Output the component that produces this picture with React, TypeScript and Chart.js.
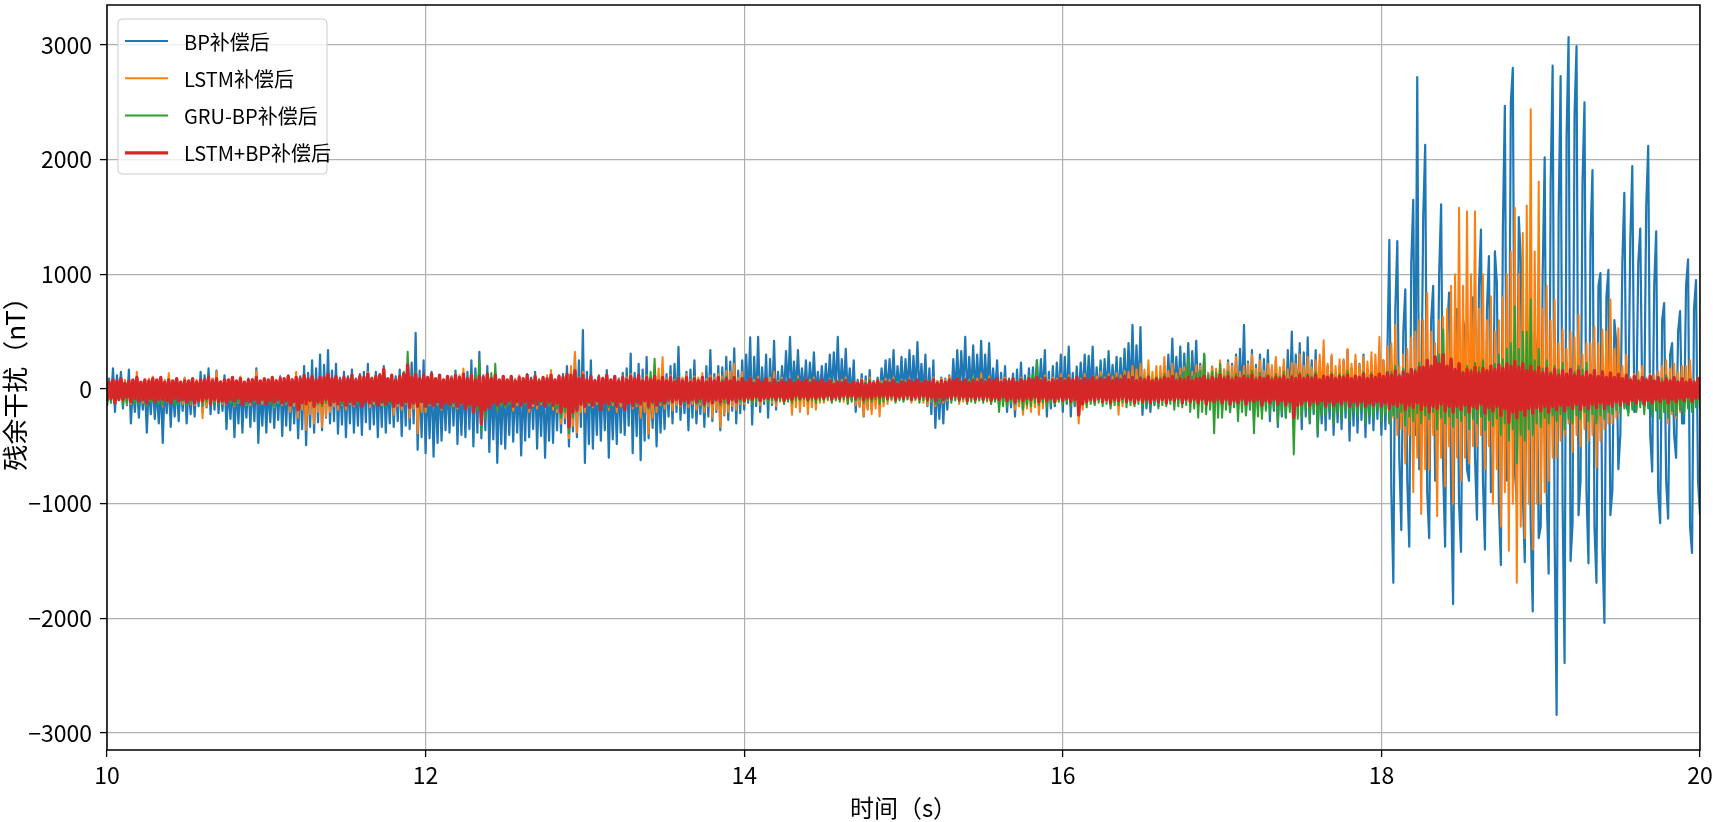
import React, { useEffect, useRef } from "react";
import { Chart, registerables } from "chart.js";

Chart.register(...registerables);

// sample times: 10 s .. 20 s, one value every 0.0125 s (801 samples per series)
const timeStart = 10;
const timeStep = 0.0125;
const xMin = 10;
const xMax = 20;
const yMin = -3148;
const yMax = 3349;
const xTicks = [10, 12, 14, 16, 18, 20];
const yTicks = [-3000, -2000, -1000, 0, 1000, 2000, 3000];
const xTitle = "时间（s）";
const yTitle = "残余干扰（nT）";
const seriesNames = ["BP补偿后", "LSTM补偿后", "GRU-BP补偿后", "LSTM+BP补偿后"];

const bpValues = [
  -150, 90, -120, 180, -200, 120, -90, 150, -170, 60, -140, 170, -300, 30, -200, 60, -250, 20, -180, 50, -380, 40, -220, 70, -260, 10, -300, 40, -470, 50, -210, 80, -330, 30, -240, 60, -280, 60, -190, 90,
  -300, 40, -220, 60, -240, 70, -150, 150, -200, 120, -160, 180, -220, 90, -180, 160, -210, 60, -190, 120, -350, 30, -260, 80, -420, 50, -300, 100, -380, 40, -250, 90, -330, 70, -280, 180, -470, 20, -320, 70,
  -380, 40, -290, 80, -340, 60, -270, 110, -410, 70, -320, 120, -360, 50, -300, 90, -430, 110, -350, 200, -490, 140, -330, 250, -380, 180, -290, 300, -360, 210, -250, 340, -300, 160, -280, 220, -390, 100, -310, 150,
  -420, 110, -300, 170, -380, 90, -320, 130, -400, 150, -290, 220, -350, 100, -310, 150, -420, 130, -330, 200, -380, 80, -300, 120, -330, 110, -280, 170, -410, 140, -320, 210, -350, 230, -300, 490, -530, 160, -420, 250,
  -560, 90, -430, 150, -590, 60, -470, 100, -450, 50, -360, 80, -380, 110, -320, 160, -480, 70, -400, 120, -420, 150, -350, 250, -500, 180, -380, 325, -430, 120, -360, 200, -550, 90, -440, 140, -645, 60, -480, 100,
  -520, 70, -400, 110, -460, 50, -380, 90, -580, 80, -450, 130, -420, 100, -350, 150, -520, 60, -410, 100, -600, 40, -450, 90, -470, 80, -360, 120, -380, 130, -300, 200, -500, 160, -370, 300, -420, 250, -330, 513,
  -645, 150, -480, 250, -520, 80, -400, 120, -450, 100, -360, 165, -600, 60, -440, 100, -480, 90, -380, 140, -400, 180, -320, 310, -560, 140, -410, 220, -620, 170, -450, 280, -430, 100, -340, 150, -500, 80, -380, 130,
  -350, 130, -240, 200, -300, 220, -200, 368, -270, 90, -210, 150, -360, 170, -250, 250, -300, 60, -220, 100, -330, 200, -240, 340, -280, 130, -200, 200, -360, 190, -230, 280, -270, 240, -190, 355, -300, 160, -210, 250,
  -180, 300, -120, 450, -310, 280, -150, 455, -200, 190, -130, 300, -250, 260, -140, 420, -180, 150, -90, 200, -60, 330, -30, 455, -80, 240, -20, 340, -50, 180, -40, 250, -90, 230, -30, 320, -60, 150, -40, 200,
  -70, 220, -30, 300, -40, 320, -20, 455, -90, 260, -40, 350, -60, 180, -90, 250, -200, 80, -150, 130, -240, 110, -170, 165, -180, 70, -110, 100, -60, 180, -30, 250, -40, 260, -20, 340, -80, 200, -30, 280,
  -50, 260, -20, 340, -70, 290, -30, 410, -40, 220, -60, 300, -150, 180, -220, 250, -340, 70, -260, 100, -300, 90, -180, 120, -100, 260, -40, 340, -50, 330, -20, 455, -90, 280, -40, 380, -60, 300, -30, 420,
  -80, 300, -40, 400, -100, 180, -60, 250, -150, 140, -110, 200, -200, 90, -160, 135, -240, 170, -150, 230, -180, 120, -130, 180, -120, 190, -80, 250, -100, 260, -60, 340, -240, 150, -170, 200, -150, 230, -90, 300,
  -200, 280, -130, 370, -240, 140, -150, 195, -100, 230, -60, 300, -80, 290, -40, 370, -120, 190, -70, 250, -90, 260, -50, 330, -60, 210, -30, 280, -100, 270, -60, 350, -80, 400, -50, 560, -110, 380, -70, 540,
  -225, 70, -170, 100, -200, 90, -140, 120, -150, 140, -90, 200, -100, 300, -60, 440, -80, 280, -40, 370, -120, 310, -70, 400, -90, 330, -50, 420, -100, 220, -80, 300, -150, 140, -100, 195, -120, 130, -90, 180,
  -180, 170, -120, 250, -200, 220, -130, 300, -180, 350, -110, 560, -220, 240, -150, 340, -250, 210, -170, 300, -200, 260, -140, 340, -280, 180, -190, 250, -330, 140, -240, 200, -250, 340, -160, 500, -200, 300, -150, 400,
  -350, 320, -240, 450, -300, 250, -220, 340, -415, 140, -300, 200, -360, 200, -260, 280, -400, 130, -290, 195, -350, 250, -250, 340, -450, 180, -320, 250, -380, 220, -270, 300, -420, 150, -300, 200, -360, 180, -260, 250,
  -400, 250, -350, 300, 1300, -900, -1690, 700, 1290, -600, -1230, 500, 870, -800, -1375, 1100, 1650, -400, 2720, -700, -250, 1500, 2130, -900, -1300, 600, 900, -800, -500, 1000, 1610, -700, -1375, 500, 840, -900, -1875, 600, 700, -1000,
  -1420, 600, 500, -700, -800, 700, 800, -600, -1140, 900, 1390, -800, -1400, 700, 1160, -900, -600, 1200, 920, -1000, -1535, 1400, 2470, -800, -600, 2500, 2800, -700, -1000, 1500, 1130, -900, -1510, 600, 400, -1200, -1940, 500, 300, -1300,
  -1200, 1000, 2020, -900, -1610, 1800, 2820, -1300, -2842, 1500, 2730, -1000, -2390, 2200, 3070, -1500, -1170, 2400, 2990, -1100, -800, 1800, 2500, -900, -1520, 1300, 1910, -1200, -1690, 900, 1010, -1400, -2040, 800, 1040, -1100, -880, 600, 400, -700,
  -400, 1100, 1710, -150, -200, 1300, 1945, -200, -180, 1100, 1400, -100, -150, 1600, 2120, -400, -720, 900, 1375, -900, -1170, 600, 750, -800, -1130, 300, 400, -400, -600, 500, 680, -300, -300, 900, 1130, -1200, -1430, 700, 950, -800,
  -1100,
];

const lstmValues = [
  -80, 50, -110, 70, -120, 60, -90, 90, -100, 80, -130, 60, -130, 70, -100, 150, -110, 50, -120, 80, -140, 90, -100, 110, -90, 60, -120, 70, -150, 80, -110, 140, -120, 70, -90, 90, -100, 60, -130, 100,
  -110, 60, -130, 90, -140, 80, -100, 70, -255, 60, -150, 100, -120, 90, -110, 150, -100, 70, -130, 60, -130, 80, -110, 90, -150, 70, -120, 110, -120, 60, -140, 80, -140, 90, -100, 160, -110, 70, -130, 90,
  -130, 60, -110, 70, -160, 80, -120, 100, -140, 60, -130, 80, -200, 90, -150, 150, -250, 70, -180, 90, -357, 80, -220, 110, -300, 60, -200, 80, -330, 90, -240, 120, -200, 70, -150, 100, -180, 60, -140, 90,
  -180, 80, -130, 110, -150, 70, -120, 90, -130, 100, -110, 150, -160, 60, -130, 80, -120, 90, -140, 100, -140, 80, -120, 120, -225, 70, -150, 90, -180, 100, -130, 130, -250, 110, -170, 150, -385, 80, -200, 110,
  -200, 90, -140, 120, -150, 70, -130, 100, -180, 80, -120, 90, -130, 100, -150, 130, -170, 120, -130, 180, -160, 80, -140, 110, -140, 70, -120, 90, -210, 80, -150, 100, -150, 90, -130, 120, -180, 60, -140, 80,
  -160, 80, -130, 100, -190, 90, -140, 120, -140, 70, -120, 90, -200, 80, -150, 110, -170, 90, -130, 100, -150, 120, -140, 165, -180, 80, -200, 110, -300, 90, -250, 130, -430, 200, -320, 325, -380, 100, -200, 150,
  -200, 80, -140, 110, -160, 70, -130, 100, -150, 90, -120, 120, -180, 70, -140, 90, -200, 80, -150, 110, -140, 100, -120, 130, -170, 80, -150, 100, -250, 90, -200, 120, -385, 100, -250, 150, -200, 180, -140, 280,
  -170, 90, -130, 120, -190, 80, -140, 100, -150, 100, -120, 130, -160, 80, -130, 110, -180, 100, -140, 140, -200, 90, -150, 120, -250, 100, -180, 130, -330, 110, -220, 160, -200, 150, -150, 220, -180, 100, -130, 150,
  -130, 70, -100, 100, -120, 80, -110, 110, -140, 60, -100, 90, -110, 100, -120, 150, -150, 70, -110, 100, -130, 60, -100, 80, -225, 70, -160, 110, -200, 60, -150, 90, -220, 80, -160, 100, -180, 60, -120, 80,
  -120, 60, -100, 90, -110, 70, -90, 80, -100, 80, -110, 100, -130, 50, -100, 70, -140, 60, -160, 90, -240, 70, -180, 100, -220, 60, -170, 80, -240, 70, -150, 90, -130, 80, -100, 100, -110, 60, -90, 80,
  -100, 70, -90, 90, -120, 50, -100, 70, -110, 60, -120, 80, -140, 70, -110, 100, -150, 70, -120, 90, -120, 80, -100, 110, -100, 60, -90, 80, -130, 70, -110, 90, -110, 80, -100, 100, -120, 90, -100, 135,
  -100, 80, -110, 110, -130, 70, -100, 90, -120, 80, -110, 100, -150, 60, -120, 80, -180, 70, -150, 100, -225, 80, -170, 110, -200, 70, -160, 90, -225, 90, -170, 120, -150, 80, -120, 100, -130, 90, -110, 130,
  -120, 90, -100, 120, -150, 80, -120, 100, -300, 90, -180, 130, -140, 80, -110, 110, -130, 110, -100, 150, -120, 100, -90, 130, -150, 110, -120, 140, -225, 120, -150, 160, -120, 150, -100, 200, -110, 170, -90, 220,
  -120, 170, -80, 250, -100, 150, -70, 200, -140, 200, -90, 280, -110, 160, -80, 220, -130, 140, -90, 180, -100, 190, -70, 260, -120, 150, -80, 210, -150, 200, -100, 280, -110, 140, -80, 190, -130, 180, -90, 250,
  -100, 170, -70, 230, -130, 200, -90, 280, -120, 150, -80, 200, -140, 220, -100, 300, -110, 180, -80, 250, -150, 160, -100, 220, -120, 210, -90, 280, -100, 190, -70, 260, -130, 170, -90, 230, -110, 220, -80, 300,
  -120, 200, -80, 280, -140, 190, -100, 250, -110, 300, -80, 425, -150, 220, -110, 300, -120, 200, -90, 260, -130, 260, -90, 350, -100, 220, -70, 300, -140, 210, -100, 280, -120, 240, -90, 320, -150, 300, -100, 455,
  -150, 250, -200, 370, -300, 400, -250, 560, -400, 200, -350, 300, -650, 350, -400, 450, -900, 500, -600, 600, -1090, 600, -700, 840, -700, 500, -400, 400, -1110, 600, -600, 630, -850, 700, -500, 900, -1000, 1000, -600, 1580,
  -800, 900, -600, 1550, -650, 1000, -500, 1550, -500, 700, -400, 1000, -700, 600, -500, 810, -1000, 500, -700, 600, -1200, 800, -900, 1000, -1410, 1200, -1000, 1580, -1690, 1000, -1200, 1360, -1300, 1600, -1000, 2440, -1400, 1200, -1000, 1810,
  -1000, 700, -900, 900, -800, 600, -600, 780, -600, 400, -450, 520, -400, 350, -300, 500, -550, 450, -400, 650, -500, 300, -350, 400, -450, 400, -400, 545, -680, 400, -450, 520, -350, 500, -300, 780, -300, 350, -250, 530,
  -200, 200, -150, 300, -150, 100, -120, 130, -180, 150, -130, 200, -150, 100, -120, 130, -200, 120, -180, 150, -250, 200, -200, 250, -300, 180, -220, 220, -250, 150, -200, 200, -150, 200, -130, 250, -120, 80, -100, 100,
  -80,
];

const gruBpValues = [
  -150, 40, -110, 60, -120, 50, -100, 40, -140, 30, -120, 70, -100, 60, -130, 50, -130, 40, -100, 60, -150, 50, -120, 40, -110, 30, -130, 70, -140, 60, -110, 50, -120, 40, -140, 60, -130, 50, -100, 40,
  -140, 50, -120, 60, -120, 40, -100, 80, -150, 60, -110, 50, -110, 40, -130, 70, -130, 50, -110, 60, -100, 40, -120, 50, -140, 60, -110, 70, -120, 50, -130, 60, -110, 40, -120, 50, -130, 60, -100, 80,
  -120, 50, -130, 60, -150, 40, -110, 70, -110, 60, -120, 50, -130, 40, -110, 80, -140, 50, -120, 60, -120, 70, -100, 90, -110, 50, -130, 70, -150, 40, -120, 60, -130, 50, -110, 80, -120, 40, -130, 60,
  -130, 50, -110, 70, -110, 40, -130, 60, -140, 60, -110, 80, -120, 50, -100, 70, -100, 60, -120, 90, -150, 50, -130, 60, -120, 70, -110, 80, -130, 150, -120, 325, -150, 100, -130, 150, -120, 60, -110, 80,
  -120, 60, -130, 90, -140, 50, -120, 70, -130, 80, -110, 100, -150, 60, -130, 80, -110, 70, -120, 90, -140, 80, -160, 120, -200, 130, -180, 250, -370, 80, -250, 100, -150, 140, -130, 220, -180, 70, -140, 90,
  -160, 60, -130, 80, -130, 70, -110, 100, -120, 60, -130, 90, -150, 50, -120, 70, -140, 80, -120, 100, -130, 60, -140, 80, -150, 70, -170, 90, -250, 80, -200, 110, -385, 60, -250, 90, -200, 80, -140, 120,
  -150, 70, -120, 100, -130, 60, -110, 80, -120, 70, -130, 90, -160, 80, -120, 100, -140, 60, -110, 80, -130, 90, -120, 110, -150, 70, -130, 90, -120, 80, -110, 100, -170, 150, -130, 265, -140, 70, -120, 90,
  -130, 60, -110, 80, -120, 70, -100, 100, -140, 60, -120, 90, -110, 50, -100, 70, -130, 80, -110, 100, -150, 60, -120, 80, -120, 70, -100, 90, -140, 80, -120, 110, -130, 60, -100, 80, -120, 70, -110, 90,
  -110, 60, -100, 80, -130, 50, -110, 70, -100, 70, -90, 90, -120, 50, -100, 60, -110, 60, -100, 80, -130, 50, -110, 70, -120, 70, -100, 90, -100, 50, -90, 60, -110, 60, -100, 80, -120, 50, -100, 70,
  -100, 50, -90, 70, -120, 40, -100, 60, -110, 60, -90, 80, -130, 50, -110, 70, -100, 40, -90, 60, -120, 60, -100, 80, -110, 50, -90, 70, -130, 40, -110, 60, -100, 60, -90, 80, -120, 50, -100, 70,
  -110, 60, -90, 80, -100, 50, -90, 70, -120, 40, -100, 60, -110, 70, -100, 90, -130, 50, -110, 70, -100, 60, -90, 80, -120, 40, -100, 60, -110, 50, -90, 70, -130, 70, -110, 90, -120, 60, -100, 80,
  -120, 70, -100, 90, -130, 50, -110, 70, -200, 60, -150, 80, -150, 80, -120, 100, -130, 70, -110, 90, -180, 80, -140, 110, -150, 130, -120, 250, -140, 80, -120, 100, -160, 60, -130, 80, -130, 70, -110, 90,
  -140, 70, -120, 100, -150, 60, -130, 80, -130, 70, -110, 90, -160, 80, -130, 100, -140, 80, -120, 110, -150, 70, -130, 90, -170, 80, -140, 100, -140, 90, -120, 120, -160, 80, -140, 100, -150, 80, -130, 110,
  -160, 90, -140, 120, -150, 80, -130, 100, -170, 100, -140, 130, -150, 80, -130, 110, -180, 90, -150, 120, -160, 150, -140, 280, -200, 110, -170, 140, -250, 160, -200, 310, -220, 120, -180, 150, -385, 140, -250, 220,
  -250, 110, -180, 150, -200, 100, -160, 130, -280, 90, -200, 120, -230, 120, -180, 160, -385, 100, -240, 140, -260, 90, -190, 120, -220, 100, -170, 130, -300, 110, -210, 150, -250, 90, -200, 120, -570, 100, -260, 140,
  -250, 100, -190, 130, -280, 110, -200, 150, -385, 90, -230, 120, -230, 110, -180, 140, -300, 100, -210, 130, -260, 120, -190, 160, -280, 90, -200, 120, -240, 110, -190, 150, -300, 100, -220, 140, -250, 100, -190, 130,
  -280, 110, -220, 150, -300, 150, -230, 200, -250, 130, -200, 180, -320, 110, -240, 150, -280, 170, -210, 230, -300, 150, -230, 200, -260, 180, -200, 250, -350, 300, -250, 520, -300, 170, -240, 220, -330, 140, -250, 180,
  -280, 150, -230, 200, -350, 170, -260, 230, -300, 190, -240, 250, -360, 150, -270, 200, -320, 220, -260, 300, -400, 260, -300, 350, -450, 400, -350, 720, -650, 350, -400, 500, -450, 500, -350, 780, -400, 250, -300, 350,
  -330, 180, -250, 250, -300, 150, -230, 200, -280, 170, -220, 230, -350, 130, -260, 180, -300, 150, -230, 200, -260, 170, -200, 230, -280, 120, -220, 165, -300, 110, -230, 150, -260, 90, -200, 120, -220, 80, -180, 100,
  -210, 90, -170, 120, -230, 80, -180, 100, -200, 70, -160, 90, -220, 80, -170, 110, -240, 70, -190, 100, -260, 90, -200, 120, -250, 80, -190, 100, -230, 70, -180, 90, -220, 60, -170, 80, -200, 70, -160, 90,
  -180,
];

const lstmBpValues = [
  -100, 60, -80, 80, -120, 70, -90, 90, -90, 50, -70, 70, -110, 80, -80, 100, -100, 60, -90, 80, -120, 70, -80, 90, -110, 80, -90, 100, -90, 60, -100, 80, -120, 70, -80, 90, -100, 60, -90, 70,
  -110, 70, -90, 90, -120, 60, -100, 80, -100, 80, -80, 100, -130, 70, -90, 90, -110, 60, -100, 80, -120, 80, -90, 100, -100, 70, -80, 90, -130, 60, -100, 80, -110, 80, -90, 100, -120, 70, -90, 90,
  -130, 80, -100, 100, -110, 70, -90, 90, -120, 90, -100, 110, -140, 80, -110, 100, -180, 90, -120, 120, -130, 90, -100, 110, -150, 80, -110, 100, -120, 100, -90, 130, -140, 90, -110, 110, -130, 80, -100, 100,
  -140, 90, -110, 120, -130, 80, -100, 110, -150, 100, -110, 130, -120, 90, -100, 110, -140, 120, -110, 170, -130, 90, -100, 120, -150, 80, -120, 110, -140, 130, -110, 210, -160, 100, -120, 130, -150, 90, -110, 120,
  -150, 100, -120, 130, -140, 90, -110, 120, -160, 80, -120, 110, -130, 90, -110, 120, -150, 100, -120, 130, -170, 90, -130, 120, -200, 80, -140, 110, -300, 100, -180, 130, -160, 90, -120, 120, -140, 80, -110, 110,
  -130, 80, -100, 110, -150, 70, -110, 100, -140, 90, -110, 120, -160, 80, -120, 110, -130, 70, -100, 100, -150, 90, -110, 120, -140, 80, -120, 110, -200, 100, -150, 130, -330, 120, -200, 160, -180, 90, -130, 120,
  -150, 80, -110, 110, -140, 70, -100, 100, -180, 90, -120, 120, -130, 80, -100, 110, -150, 70, -110, 100, -180, 80, -120, 110, -140, 90, -110, 120, -130, 70, -100, 100, -150, 80, -110, 110, -140, 70, -100, 100,
  -120, 70, -90, 100, -110, 60, -90, 90, -130, 70, -100, 100, -120, 60, -90, 90, -110, 70, -80, 100, -130, 60, -100, 90, -120, 70, -90, 100, -110, 60, -80, 90, -120, 70, -90, 100, -110, 60, -80, 90,
  -100, 60, -80, 90, -90, 50, -70, 80, -100, 60, -80, 90, -80, 50, -70, 80, -90, 50, -70, 70, -100, 60, -80, 80, -90, 50, -60, 70, -80, 60, -70, 80, -90, 50, -70, 70, -80, 60, -70, 80,
  -80, 50, -60, 70, -90, 40, -70, 60, -80, 50, -60, 70, -70, 40, -60, 60, -80, 50, -60, 70, -90, 40, -70, 60, -80, 50, -60, 70, -70, 40, -60, 60, -80, 50, -60, 70, -90, 40, -70, 60,
  -80, 50, -60, 70, -90, 60, -70, 80, -80, 50, -60, 70, -90, 60, -70, 80, -100, 50, -70, 70, -90, 60, -70, 80, -80, 70, -60, 90, -90, 60, -70, 80, -100, 50, -70, 70, -90, 60, -70, 80,
  -90, 60, -70, 80, -100, 70, -80, 90, -90, 60, -70, 80, -100, 70, -80, 90, -110, 60, -80, 80, -100, 70, -80, 90, -90, 80, -70, 100, -110, 70, -80, 90, -100, 60, -80, 80, -110, 70, -80, 90,
  -100, 70, -80, 90, -110, 80, -90, 100, -225, 70, -130, 90, -110, 80, -90, 100, -100, 70, -80, 90, -110, 80, -90, 100, -120, 70, -90, 90, -100, 80, -80, 110, -110, 80, -90, 100, -120, 70, -90, 90,
  -110, 80, -90, 100, -120, 70, -90, 90, -110, 80, -90, 100, -120, 90, -90, 110, -100, 70, -80, 90, -120, 80, -90, 100, -110, 70, -90, 90, -120, 90, -90, 110, -130, 80, -100, 100, -110, 90, -90, 120,
  -120, 90, -90, 110, -130, 80, -100, 100, -120, 90, -90, 110, -130, 90, -100, 120, -110, 80, -90, 100, -140, 90, -100, 110, -120, 80, -90, 100, -130, 90, -100, 110, -140, 80, -110, 100, -250, 90, -140, 120,
  -130, 90, -100, 110, -140, 90, -110, 120, -130, 80, -100, 110, -150, 100, -110, 120, -140, 90, -110, 110, -130, 100, -100, 120, -150, 90, -110, 110, -140, 100, -110, 130, -150, 90, -120, 120, -140, 100, -110, 130,
  -150, 110, -120, 140, -170, 120, -130, 160, -150, 110, -120, 150, -180, 130, -140, 170, -160, 150, -120, 190, -180, 190, -140, 250, -200, 200, -150, 280, -170, 220, -130, 300, -190, 200, -150, 260, -200, 170, -150, 220,
  -180, 140, -140, 170, -200, 150, -150, 190, -170, 140, -130, 180, -210, 160, -160, 200, -190, 170, -150, 210, -230, 180, -170, 220, -290, 200, -200, 240, -250, 190, -180, 220, -230, 160, -170, 200, -210, 150, -160, 190,
  -190, 140, -150, 180, -200, 130, -150, 170, -180, 120, -140, 160, -190, 130, -140, 170, -170, 120, -130, 160, -180, 110, -140, 150, -170, 120, -130, 160, -160, 110, -120, 150, -170, 100, -130, 140, -150, 100, -110, 130,
  -140, 90, -110, 120, -130, 80, -100, 110, -120, 70, -90, 100, -130, 80, -100, 110, -120, 70, -90, 100, -110, 60, -80, 90, -120, 70, -90, 100, -110, 60, -80, 90, -100, 60, -70, 80, -110, 60, -80, 90,
  -90,
];

const seriesValues = [bpValues, lstmValues, gruBpValues, lstmBpValues];
const seriesColors = ["#1f77b4", "#ff7f0e", "#2ca02c", "#d62728"];
const seriesWidths = [2.2, 2.0, 2.0, 3.4];

const FONT = "'Noto Sans CJK SC', sans-serif";

function toPoints(values: number[]) {
  return values.map((v, i) => ({ x: timeStart + i * timeStep, y: v }));
}

const framePlugin = {
  id: "frame",
  afterDatasetsDraw(chart: any) {
    const { ctx, chartArea: a } = chart;
    ctx.save();
    ctx.strokeStyle = "#000";
    ctx.lineWidth = 1.5;
    ctx.strokeRect(a.left, a.top, a.right - a.left, a.bottom - a.top);
    ctx.restore();
  },
};

const legendPlugin = {
  id: "innerLegend",
  afterDraw(chart: any) {
    const { ctx, chartArea: a } = chart;
    const x0 = a.left + 11;
    const y0 = a.top + 14;
    const w = 209;
    const h = 155;
    const r = 4;
    ctx.save();
    ctx.beginPath();
    ctx.moveTo(x0 + r, y0);
    ctx.lineTo(x0 + w - r, y0);
    ctx.quadraticCurveTo(x0 + w, y0, x0 + w, y0 + r);
    ctx.lineTo(x0 + w, y0 + h - r);
    ctx.quadraticCurveTo(x0 + w, y0 + h, x0 + w - r, y0 + h);
    ctx.lineTo(x0 + r, y0 + h);
    ctx.quadraticCurveTo(x0, y0 + h, x0, y0 + h - r);
    ctx.lineTo(x0, y0 + r);
    ctx.quadraticCurveTo(x0, y0, x0 + r, y0);
    ctx.closePath();
    ctx.fillStyle = "rgba(255,255,255,0.8)";
    ctx.fill();
    ctx.strokeStyle = "#cccccc";
    ctx.lineWidth = 1;
    ctx.stroke();
    chart.data.datasets.forEach((ds: any, i: number) => {
      const cy = y0 + 22 + i * 37.3;
      ctx.beginPath();
      ctx.moveTo(x0 + 7, cy);
      ctx.lineTo(x0 + 50, cy);
      ctx.strokeStyle = ds.borderColor;
      ctx.lineWidth = ds.borderWidth;
      ctx.lineCap = "butt";
      ctx.stroke();
      ctx.fillStyle = "#000";
      ctx.font = `20px ${FONT}`;
      ctx.textAlign = "left";
      ctx.textBaseline = "middle";
      ctx.fillText(ds.label, x0 + 66, cy + 1);
    });
    ctx.restore();
  },
};

export default function App() {
  const canvasRef = useRef<HTMLCanvasElement | null>(null);

  useEffect(() => {
    if (!canvasRef.current) return;
    const chart = new Chart(canvasRef.current, {
      type: "line",
      data: {
        datasets: seriesNames.map((name, k) => ({
          label: name,
          data: toPoints(seriesValues[k]),
          borderColor: seriesColors[k],
          backgroundColor: seriesColors[k],
          borderWidth: seriesWidths[k],
          pointRadius: 0,
          tension: 0,
          fill: false,
          borderJoinStyle: "round" as const,
          order: 4 - k,
        })),
      },
      options: {
        animation: false,
        responsive: true,
        maintainAspectRatio: false,
        parsing: false as any,
        layout: { padding: { top: 5, right: 13, left: 0, bottom: 0 } },
        plugins: {
          legend: { display: false },
          tooltip: { enabled: false },
        },
        scales: {
          x: {
            type: "linear",
            min: xMin,
            max: xMax,
            afterBuildTicks: (s: any) => {
              s.ticks = xTicks.map((v) => ({ value: v }));
            },
            afterFit: (s: any) => {
              s.height = 72;
              s.paddingLeft = 0;
              s.paddingRight = 0;
            },
            grid: {
              color: "#b0b0b0",
              lineWidth: 1.2,
              tickLength: 7,
              tickColor: "#000",
              tickWidth: 1.3,
            },
            border: { display: false },
            ticks: {
              font: { family: FONT, size: 23 },
              color: "#000",
              padding: 4,
              maxRotation: 0,
              autoSkip: false,
              callback: (v: any) => String(v),
            },
            title: {
              display: true,
              text: xTitle,
              font: { family: FONT, size: 24, lineHeight: 1.2 },
              color: "#000",
              padding: { top: 0, bottom: 0 },
            },
          },
          y: {
            type: "linear",
            min: yMin,
            max: yMax,
            afterBuildTicks: (s: any) => {
              s.ticks = yTicks.map((v) => ({ value: v }));
            },
            afterFit: (s: any) => {
              s.width = 107;
              s.paddingTop = 0;
              s.paddingBottom = 0;
            },
            grid: {
              color: "#b0b0b0",
              lineWidth: 1.2,
              tickLength: 7,
              tickColor: "#000",
              tickWidth: 1.3,
            },
            border: { display: false },
            ticks: {
              font: { family: FONT, size: 23 },
              color: "#000",
              padding: 8,
              autoSkip: false,
              callback: (v: any) => (v < 0 ? "\u2212" + Math.abs(v) : String(v)),
            },
            title: {
              display: true,
              text: yTitle,
              font: { family: FONT, size: 26, lineHeight: 1.2 },
              color: "#000",
              padding: { top: 0, bottom: 0 },
            },
          },
        },
      },
      plugins: [framePlugin, legendPlugin],
    });
    return () => chart.destroy();
  }, []);

  return (
    <div style={{ position: "absolute", left: 0, top: 0, width: 1713, height: 822, background: "#fff" }}>
      <canvas ref={canvasRef} />
    </div>
  );
}
